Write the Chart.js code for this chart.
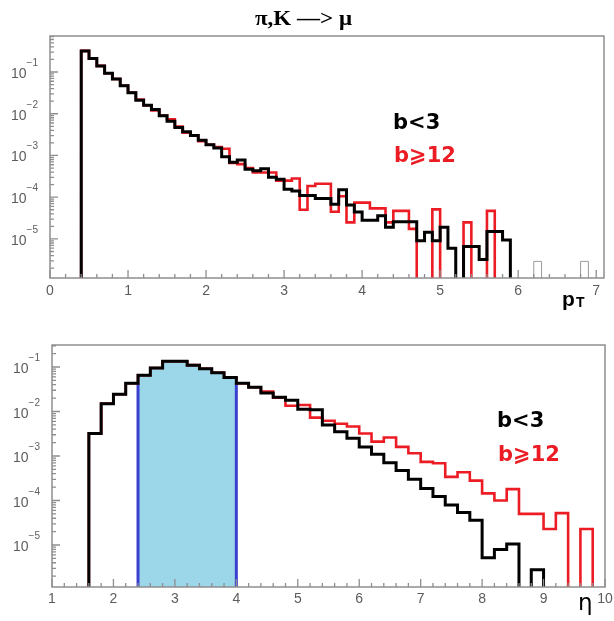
<!DOCTYPE html>
<html>
<head>
<meta charset="utf-8">
<title>π,K —&gt; μ</title>
<script src="https://cdn.jsdelivr.net/npm/chart.js@4.4.1/dist/chart.umd.min.js"></script>
<style>
html, body { margin:0; padding:0; background:#ffffff; }
#wrap { position:relative; width:614px; height:621px; overflow:hidden; background:#fff; }
#wrap canvas { position:absolute; left:0; }
</style>
</head>
<body>
<div id="wrap">
  <canvas id="cTop" width="614" height="310" style="top:0px"></canvas>
  <canvas id="cBot" width="614" height="311" style="top:310px"></canvas>
</div>
<script>
// ================= DATA =================
const chartTitle = 'π,K —> μ';
const legendLabels = ['b<3', 'b⩾12'];

// ---- pT panel (bin lower edges, width 0.1) ----
const ptBins = [0.4,0.5,0.6,0.7,0.8,0.9,1.0,1.1,1.2,1.3,1.4,1.5,1.6,1.7,1.8,1.9,2.0,2.1,2.2,2.3,2.4,2.5,2.6,2.7,2.8,2.9,3.0,3.1,3.2,3.3,3.4,3.5,3.6,3.7,3.8,3.9,4.0,4.1,4.2,4.3,4.4,4.5,4.6,4.7,4.8,4.9,5.0,5.1,5.2,5.3,5.4,5.5,5.6,5.7,5.8];
const ptBinWidth = 0.1;
const ptCentral = [3.2e-1,2.1e-1,1.4e-1,9.3e-2,6.8e-2,4.7e-2,3.2e-2,2.1e-2,1.6e-2,1.26e-2,8.9e-3,6.6e-3,4.7e-3,3.7e-3,3.0e-3,2.3e-3,1.8e-3,1.5e-3,9.3e-4,6.9e-4,7.8e-4,4.7e-4,4.3e-4,4.8e-4,3.0e-4,2.7e-4,1.55e-4,1.4e-4,1.1e-4,1.1e-4,9.3e-5,9.3e-5,6.8e-5,1.5e-4,6.5e-5,4.4e-5,2.8e-5,2.8e-5,3.6e-5,1.9e-5,2.6e-5,2.6e-5,2.6e-5,9.1e-6,1.45e-5,9.1e-6,1.9e-5,6.0e-6,0,6.6e-6,6.6e-6,3.2e-6,1.5e-5,1.5e-5,9.5e-6];
const ptPeripheral = [3.2e-1,2.1e-1,1.4e-1,9.3e-2,6.8e-2,4.7e-2,3.2e-2,2.2e-2,1.6e-2,1.2e-2,9.1e-3,7.4e-3,4.9e-3,3.5e-3,3.0e-3,2.2e-3,1.8e-3,1.6e-3,1.45e-3,6.6e-4,6.2e-4,5.0e-4,3.9e-4,3.9e-4,3.9e-4,2.5e-4,2.5e-4,2.8e-4,5.0e-5,1.86e-4,2.1e-4,2.1e-4,4.5e-5,1.05e-4,2.5e-5,7.4e-5,7.4e-5,5.4e-5,5.4e-5,2.5e-5,4.7e-5,4.7e-5,1.74e-5,0,0,5.1e-5,0,0,0,2.5e-5,0,0,4.7e-5,0,0];
const ptOtherBins = [6.2, 6.8];
const ptOther = [2.9e-6, 2.9e-6];
const ptTicks = [0,1,2,3,4,5,6,7];
const ptXRange = [0, 7.1];
const ptYRange = [1.16e-6, 0.728];

// ---- eta panel (bin lower edges, width 0.2) ----
const etaBins = [1.6,1.8,2.0,2.2,2.4,2.6,2.8,3.0,3.2,3.4,3.6,3.8,4.0,4.2,4.4,4.6,4.8,5.0,5.2,5.4,5.6,5.8,6.0,6.2,6.4,6.6,6.8,7.0,7.2,7.4,7.6,7.8,8.0,8.2,8.4,8.6,8.8,9.0,9.2,9.4,9.6,9.8];
const etaBinWidth = 0.2;
const etaCentral = [3.2e-3,1.5e-2,2.45e-2,4.3e-2,6.5e-2,9.5e-2,1.35e-1,1.35e-1,1.1e-1,9.1e-2,7.4e-2,5.8e-2,4.3e-2,3.5e-2,2.6e-2,2.1e-2,1.8e-2,1.12e-2,1.1e-2,5.0e-3,3.5e-3,2.5e-3,1.6e-3,1.1e-3,7.1e-4,4.7e-4,3.0e-4,1.86e-4,1.23e-4,7.9e-5,5.4e-5,3.6e-5,5.2e-6,7.9e-6,1.05e-5,0,2.8e-6,0,0,0,0,0];
const etaPeripheral = [3.2e-3,1.5e-2,2.45e-2,4.3e-2,6.5e-2,9.5e-2,1.35e-1,1.35e-1,1.1e-1,9.1e-2,7.4e-2,5.8e-2,4.3e-2,3.5e-2,2.8e-2,2.05e-2,1.35e-2,1.4e-2,7.3e-3,6.2e-3,5.3e-3,4.6e-3,3.2e-3,2.1e-3,2.6e-3,1.6e-3,1.15e-3,7.4e-4,6.9e-4,3.4e-4,4.3e-4,2.8e-4,1.45e-4,1.0e-4,1.8e-4,5.0e-5,5.0e-5,2.3e-5,5.2e-5,0,2.3e-5,0];
const etaBand = [2.4, 4.0];
const etaTicks = [1,2,3,4,5,6,7,8,9,10];
const etaXRange = [1, 10];
const etaYRange = [1.14e-6, 0.312];

const yDecades = [-1,-2,-3,-4,-5];

// ================= HELPERS =================
const BLACK = '#000000', RED = '#ec1c24', BLUE = '#3b3fd1', BAND = '#9bd7e8';
const AXIS = '#8e8e8e', LABEL = '#5c5c5c';

function same(a, b) { return Math.abs(a - b) < 1e-9; }

// contiguous histogram outline
function histPoints(bins, width, vals, floor) {
  const pts = [{x: bins[0], y: floor}];
  for (let i = 0; i < bins.length; i++) pts.push({x: bins[i], y: vals[i] > 0 ? vals[i] : floor});
  const last = bins.length - 1;
  const hi = +(bins[last] + width).toFixed(6);
  pts.push({x: hi, y: vals[last] > 0 ? vals[last] : floor});
  pts.push({x: hi, y: floor});
  return pts;
}
// isolated bins
function sparsePoints(bins, width, vals, floor) {
  const pts = [];
  bins.forEach((b, i) => {
    const hi = +(b + width).toFixed(6);
    pts.push({x: b, y: floor}, {x: b, y: vals[i]}, {x: hi, y: vals[i]}, {x: hi, y: floor});
  });
  return pts;
}

function lineDs(data, color, width, extra) {
  return Object.assign({
    data, borderColor: color, borderWidth: width, backgroundColor: color,
    stepped: true, fill: false, pointRadius: 0, pointHoverRadius: 0,
    borderJoinStyle: 'miter', borderCapStyle: 'butt',
    clip: {left: 10, top: 10, right: 10, bottom: 0}
  }, extra || {});
}

function rootAxesPlugin(o) {
  return {
    id: 'rootAxes',
    afterDraw(chart) {
      const ctx = chart.ctx, a = chart.chartArea;
      const xs = chart.scales.x, ys = chart.scales.y;
      ctx.save();
      ctx.strokeStyle = AXIS; ctx.lineWidth = 1.3;
      // x ticks (every 0.2, long at integers)
      const step = 0.2;
      const k0 = Math.ceil(xs.min / step - 1e-6), k1 = Math.floor(xs.max / step + 1e-6);
      ctx.beginPath();
      for (let k = k0; k <= k1; k++) {
        const v = k * step;
        const major = Math.abs(v - Math.round(v)) < 1e-6;
        const px = xs.getPixelForValue(v);
        ctx.moveTo(px, a.bottom); ctx.lineTo(px, a.bottom - (major ? 8 : 4));
      }
      // y ticks (log minors)
      const e0 = Math.floor(Math.log10(ys.min)), e1 = Math.ceil(Math.log10(ys.max));
      for (let e = e0; e <= e1; e++) {
        for (let m = 1; m <= 9; m++) {
          const v = m * Math.pow(10, e);
          if (v < ys.min || v > ys.max) continue;
          const py = ys.getPixelForValue(v);
          ctx.moveTo(a.left, py); ctx.lineTo(a.left + (m === 1 ? 8 : 4), py);
        }
      }
      ctx.stroke();
      // frame
      ctx.lineWidth = 1.5;
      ctx.strokeRect(a.left, a.top, a.right - a.left, a.bottom - a.top);
      // x labels
      ctx.fillStyle = LABEL;
      ctx.font = '14px "Liberation Sans", Arial, sans-serif';
      ctx.textAlign = 'center'; ctx.textBaseline = 'alphabetic';
      o.xTicks.forEach(t => ctx.fillText(String(t), xs.getPixelForValue(t), a.bottom + o.xLabelDy));
      // y labels 10^e
      ctx.textAlign = 'right';
      yDecades.forEach(e => {
        const py = ys.getPixelForValue(Math.pow(10, e));
        ctx.font = '10px "Liberation Sans", Arial, sans-serif';
        const sup = '−' + Math.abs(e);
        const sw = ctx.measureText(sup).width;
        const right = a.left - 12;
        ctx.fillText(sup, right, py - 6);
        ctx.font = '14px "Liberation Sans", Arial, sans-serif';
        ctx.fillText('10', right - sw, py + 6);
      });
      // legend
      ctx.textAlign = 'left';
      ctx.font = 'bold 21px "DejaVu Sans", Verdana, sans-serif';
      ctx.fillStyle = BLACK; ctx.fillText(legendLabels[0], o.legend[0], o.legend[1]);
      ctx.fillStyle = RED; ctx.fillText(legendLabels[1], o.legend[0] + 1, o.legend[2]);
      // axis title / chart title
      o.extra(ctx, a);
      ctx.restore();
    }
  };
}

function makeChart(id, datasets, xr, yr, padding, plugin) {
  return new Chart(document.getElementById(id), {
    type: 'line',
    data: { datasets },
    options: {
      responsive: false, animation: false, devicePixelRatio: 1, events: [],
      layout: { padding },
      plugins: { legend: {display: false}, tooltip: {enabled: false}, title: {display: false} },
      scales: {
        x: { type: 'linear', min: xr[0], max: xr[1], display: false },
        y: { type: 'logarithmic', min: yr[0], max: yr[1], display: false }
      }
    },
    plugins: [plugin]
  });
}

// ================= TOP: pT =================
const ptFloor = ptYRange[0] / 100;
makeChart('cTop', [
  lineDs(histPoints(ptBins, ptBinWidth, ptCentral, ptFloor), BLACK, 3),
  lineDs(histPoints(ptBins, ptBinWidth, ptPeripheral, ptFloor), RED, 2.6),
  lineDs(sparsePoints(ptOtherBins, ptBinWidth, ptOther, ptFloor), '#9a9a9a', 1)
], ptXRange, ptYRange, {left: 50, top: 36, right: 10, bottom: 32},
rootAxesPlugin({
  xTicks: ptTicks, xLabelDy: 17, legend: [393, 129, 162],
  extra(ctx, a) {
    ctx.fillStyle = '#000';
    ctx.textAlign = 'center';
    ctx.font = 'bold 20px "Liberation Serif", "Times New Roman", serif';
    const w = ctx.measureText(chartTitle).width;
    ctx.save();
    ctx.translate(303.5, 25);
    ctx.scale(97 / w, 1);
    ctx.fillText(chartTitle, 0, 0);
    ctx.restore();
    ctx.textAlign = 'left';
    ctx.font = 'bold 21px "Liberation Sans", Arial, sans-serif';
    ctx.fillText('p', 562, 306);
    ctx.font = 'bold 14px "Liberation Sans", Arial, sans-serif';
    ctx.fillText('T', 576, 307);
  }
}));

// ================= BOTTOM: eta =================
const etaFloor = etaYRange[0] / 100;
const iLo = etaBins.findIndex(b => same(b, etaBand[0]));
const iHi = etaBins.findIndex(b => same(b, etaBand[1]));
const bandBins = etaBins.slice(iLo, iHi);
const bandVals = etaCentral.slice(iLo, iHi);
const edgeLo = Math.min(etaCentral[iLo - 1], etaCentral[iLo]);
const edgeHi = Math.min(etaCentral[iHi - 1], etaCentral[iHi]);

makeChart('cBot', [
  lineDs(histPoints(etaBins, etaBinWidth, etaCentral, etaFloor), BLACK, 3),
  lineDs(histPoints(etaBins, etaBinWidth, etaPeripheral, etaFloor), RED, 2.6),
  lineDs([{x: etaBand[0], y: etaYRange[0]}, {x: etaBand[0], y: edgeLo}], BLUE, 3),
  lineDs([{x: etaBand[1], y: etaYRange[0]}, {x: etaBand[1], y: edgeHi}], BLUE, 3),
  lineDs(histPoints(bandBins, etaBinWidth, bandVals, etaYRange[0]), 'rgba(0,0,0,0)', 0,
         {fill: 'start', backgroundColor: BAND})
], etaXRange, etaYRange, {left: 52, top: 35, right: 9, bottom: 34},
rootAxesPlugin({
  xTicks: etaTicks, xLabelDy: 16, legend: [497, 117, 151],
  extra(ctx, a) {
    ctx.fillStyle = '#000';
    ctx.textAlign = 'left';
    ctx.font = '23px "DejaVu Sans", sans-serif';
    ctx.fillText('η', 578, 300);
  }
}));
</script>
</body>
</html>
